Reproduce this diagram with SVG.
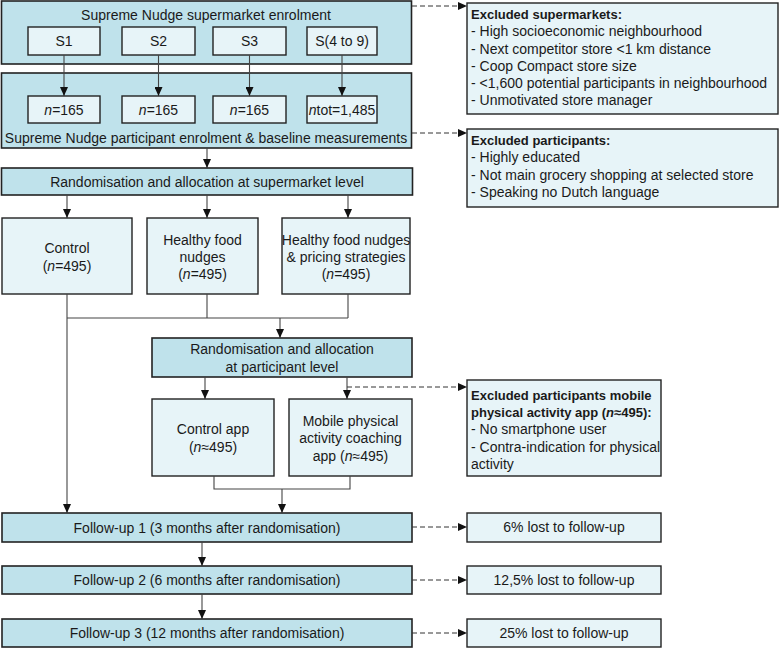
<svg xmlns="http://www.w3.org/2000/svg" width="779" height="648" viewBox="0 0 779 648">
<style>
text{font-family:"Liberation Sans",Arial,sans-serif;fill:#1a1a1a}
.t{font-size:14px;text-anchor:middle}
.e{font-size:14px}
.b{font-size:13px;font-weight:bold}
.outer{fill:#bfe2eb;stroke:#222;stroke-width:1.6}
.inner{fill:#e7f4f8;stroke:#222;stroke-width:1.4}
.c{fill:none;stroke:#444;stroke-width:1.1}
.d{fill:none;stroke:#333;stroke-width:1;stroke-dasharray:5 3}
</style>
<defs>
<marker id="ah" markerUnits="userSpaceOnUse" markerWidth="9" markerHeight="8" refX="9" refY="4" orient="auto">
<path d="M0,0 L9,4 L0,8 z" fill="#111"/>
</marker>
</defs>
<rect width="779" height="648" fill="#fff"/>

<g id="supermarket-enrolment">
<rect class="outer" x="1.5" y="1" width="410" height="63"/>
<text class="t" x="206" y="20">Supreme Nudge supermarket enrolment</text>
</g>
<g id="s1"><rect class="inner" x="28" y="27" width="72" height="28"/><text class="t" x="64" y="46">S1</text></g>
<g id="s2"><rect class="inner" x="122" y="27" width="73" height="28"/><text class="t" x="158.5" y="46">S2</text></g>
<g id="s3"><rect class="inner" x="213" y="27" width="73" height="28"/><text class="t" x="249.5" y="46">S3</text></g>
<g id="s4"><rect class="inner" x="307" y="27" width="70" height="28"/><text class="t" x="342" y="46">S(4 to 9)</text></g>

<g id="participant-enrolment">
<rect class="outer" x="1.5" y="73" width="410" height="75"/>
<text class="t" x="206" y="143">Supreme Nudge participant enrolment &amp; baseline measurements</text>
</g>
<g id="n1"><rect class="inner" x="28" y="96" width="72" height="27"/><text class="t" x="64" y="114.5"><tspan font-style="italic">n</tspan>=165</text></g>
<g id="n2"><rect class="inner" x="122" y="96" width="73" height="27"/><text class="t" x="158.5" y="114.5"><tspan font-style="italic">n</tspan>=165</text></g>
<g id="n3"><rect class="inner" x="213" y="96" width="73" height="27"/><text class="t" x="249.5" y="114.5"><tspan font-style="italic">n</tspan>=165</text></g>
<g id="n4"><rect class="inner" x="307" y="96" width="70" height="27"/><text class="t" x="342" y="114.5"><tspan font-style="italic">n</tspan>tot=1,485</text></g>

<g id="excluded-supermarkets">
<rect class="inner" x="467" y="3" width="311" height="111"/>
<text class="b" x="471" y="18.5">Excluded supermarkets:</text>
<text class="e" x="471" y="36">- High socioeconomic neighbourhood</text>
<text class="e" x="471" y="53.5">- Next competitor store &lt;1 km distance</text>
<text class="e" x="471" y="70.5">- Coop Compact store size</text>
<text class="e" x="471" y="87.5">- &lt;1,600 potential participants in neighbourhood</text>
<text class="e" x="471" y="104.5">- Unmotivated store manager</text>
</g>

<g id="excluded-participants">
<rect class="inner" x="467" y="129" width="311" height="78"/>
<text class="b" x="471" y="144.5">Excluded participants:</text>
<text class="e" x="471" y="162">- Highly educated</text>
<text class="e" x="471" y="179.5">- Not main grocery shopping at selected store</text>
<text class="e" x="471" y="197">- Speaking no Dutch language</text>
</g>

<g id="randomisation-supermarket">
<rect class="outer" x="1.5" y="168" width="411" height="27"/>
<text class="t" x="207" y="186.5">Randomisation and allocation at supermarket level</text>
</g>
<g id="control">
<rect class="inner" x="2" y="218" width="130" height="76"/>
<text class="t" x="67" y="253">Control</text>
<text class="t" x="67" y="271">(<tspan font-style="italic">n</tspan>=495)</text>
</g>
<g id="healthy-food-nudges">
<rect class="inner" x="147" y="218" width="111" height="76"/>
<text class="t" x="202.5" y="245">Healthy food</text>
<text class="t" x="202.5" y="262">nudges</text>
<text class="t" x="202.5" y="279">(<tspan font-style="italic">n</tspan>=495)</text>
</g>
<g id="nudges-pricing">
<rect class="inner" x="282" y="218" width="128" height="76"/>
<text class="t" x="346" y="245">Healthy food nudges</text>
<text class="t" x="346" y="262">&amp; pricing strategies</text>
<text class="t" x="346" y="279">(<tspan font-style="italic">n</tspan>=495)</text>
</g>

<g id="randomisation-participant">
<rect class="outer" x="152" y="338" width="260" height="39"/>
<text class="t" x="282" y="354">Randomisation and allocation</text>
<text class="t" x="282" y="372">at participant level</text>
</g>
<g id="control-app">
<rect class="inner" x="152" y="399" width="122" height="77"/>
<text class="t" x="213" y="434">Control app</text>
<text class="t" x="213" y="452">(<tspan font-style="italic">n</tspan>≈495)</text>
</g>
<g id="mobile-app">
<rect class="inner" x="289" y="399" width="123" height="77"/>
<text class="t" x="350.5" y="426">Mobile physical</text>
<text class="t" x="350.5" y="443">activity coaching</text>
<text class="t" x="350.5" y="461">app (<tspan font-style="italic">n</tspan>≈495)</text>
</g>

<g id="excluded-mobile">
<rect class="inner" x="467" y="380" width="194" height="96"/>
<text class="b" x="471" y="399.5">Excluded participants mobile</text>
<text class="b" x="471" y="417">physical activity app (<tspan font-style="italic">n</tspan>≈495):</text>
<text class="e" x="471" y="434">- No smartphone user</text>
<text class="e" x="471" y="451.5">- Contra-indication for physical</text>
<text class="e" x="471" y="468.5">activity</text>
</g>

<g id="follow-up-1">
<rect class="outer" x="2" y="513" width="410" height="29"/>
<text class="t" x="207" y="532.5">Follow-up 1 (3 months after randomisation)</text>
</g>
<g id="follow-up-2">
<rect class="outer" x="2" y="566" width="410" height="28"/>
<text class="t" x="207" y="585">Follow-up 2 (6 months after randomisation)</text>
</g>
<g id="follow-up-3">
<rect class="outer" x="2" y="619" width="410" height="28"/>
<text class="t" x="207" y="638">Follow-up 3 (12 months after randomisation)</text>
</g>

<g id="lost-1"><rect class="inner" x="467" y="513" width="194" height="29"/><text class="t" x="564" y="532">6% lost to follow-up</text></g>
<g id="lost-2"><rect class="inner" x="467" y="566" width="194" height="28"/><text class="t" x="564" y="585">12,5% lost to follow-up</text></g>
<g id="lost-3"><rect class="inner" x="467" y="619" width="194" height="28"/><text class="t" x="564" y="638">25% lost to follow-up</text></g>

<g id="connectors">
<line class="c" x1="64" y1="55" x2="64" y2="96" marker-end="url(#ah)"/>
<line class="c" x1="158.5" y1="55" x2="158.5" y2="96" marker-end="url(#ah)"/>
<line class="c" x1="249.5" y1="55" x2="249.5" y2="96" marker-end="url(#ah)"/>
<line class="c" x1="342" y1="55" x2="342" y2="96" marker-end="url(#ah)"/>
<line class="c" x1="207" y1="148" x2="207" y2="168" marker-end="url(#ah)"/>
<line class="c" x1="67" y1="195" x2="67" y2="218" marker-end="url(#ah)"/>
<line class="c" x1="207" y1="195" x2="207" y2="218" marker-end="url(#ah)"/>
<line class="c" x1="348" y1="195" x2="348" y2="218" marker-end="url(#ah)"/>
<line class="c" x1="67" y1="294" x2="67" y2="513" marker-end="url(#ah)"/>
<polyline class="c" points="207,294 207,318"/>
<polyline class="c" points="348,294 348,318"/>
<line class="c" x1="67" y1="318" x2="348" y2="318"/>
<line class="c" x1="280" y1="318" x2="280" y2="338" marker-end="url(#ah)"/>
<line class="c" x1="205" y1="377" x2="205" y2="399" marker-end="url(#ah)"/>
<line class="c" x1="347" y1="377" x2="347" y2="399" marker-end="url(#ah)"/>
<polyline class="c" points="214,476 214,489 350,489 350,476"/>
<line class="c" x1="282" y1="489" x2="282" y2="513" marker-end="url(#ah)"/>
<line class="c" x1="202" y1="542" x2="202" y2="566" marker-end="url(#ah)"/>
<line class="c" x1="202" y1="594" x2="202" y2="619" marker-end="url(#ah)"/>
<line class="d" x1="412" y1="6" x2="467" y2="6" marker-end="url(#ah)"/>
<line class="d" x1="412" y1="133" x2="467" y2="133" marker-end="url(#ah)"/>
<line class="d" x1="347" y1="387" x2="467" y2="387" marker-end="url(#ah)"/>
<line class="d" x1="412" y1="527" x2="467" y2="527" marker-end="url(#ah)"/>
<line class="d" x1="412" y1="580" x2="467" y2="580" marker-end="url(#ah)"/>
<line class="d" x1="412" y1="633" x2="467" y2="633" marker-end="url(#ah)"/>
</g>
</svg>
